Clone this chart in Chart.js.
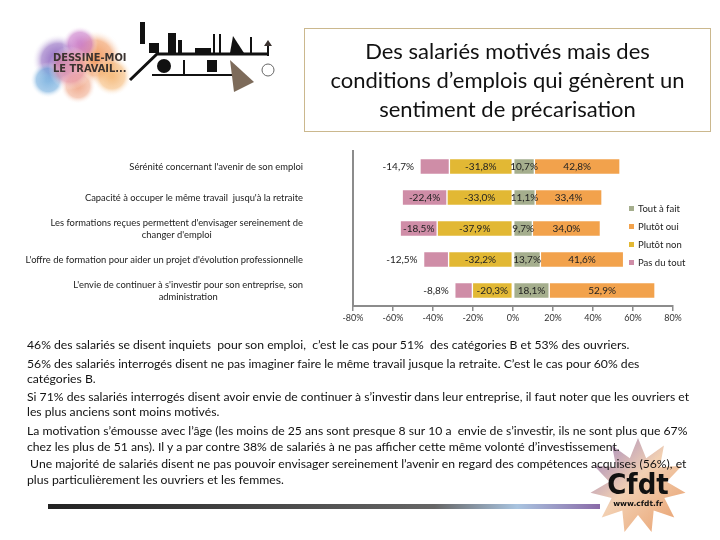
<!DOCTYPE html>
<html>
<head>
<meta charset="utf-8">
<script src="https://cdn.jsdelivr.net/npm/chart.js@4.4.0/dist/chart.umd.min.js"></script>
<style>
  body { margin: 0; width: 720px; height: 540px; background: #fff; position: relative; overflow: hidden; font-family: Lato, "Open Sans", sans-serif; }
  #deco { position: absolute; left: 0; top: 0; }
  #title { position: absolute; left: 304px; top: 28px; width: 407px; height: 104px; border: 1px solid #cbb88e;
           text-align: center; font-size: 22px; line-height: 29px; color: #111; padding-top: 7px; box-sizing: border-box; }
  #chartWrap { position: absolute; left: 0; top: 140px; width: 720px; height: 190px; }
  #notes { position: absolute; left: 27px; top: 0; font-size: 12.2px; color: #111; }
  #notes div { position: absolute; left: 0; white-space: pre; line-height: 14px; }
</style>
</head>
<body>
<canvas id="deco" width="720" height="540"></canvas>
<div id="title">Des salariés motivés mais des<br>conditions d’emplois qui génèrent un<br>sentiment de précarisation</div>
<div id="chartWrap"><canvas id="chart" width="720" height="190"></canvas></div>
<div id="notes"></div>
<script>
const categories = [
  ["Sérénité concernant l'avenir de son emploi"],
  ["Capacité à occuper le même travail  jusqu'à la retraite"],
  ["Les formations reçues permettent d'envisager sereinement de", "changer d'emploi"],
  ["L'offre de formation pour aider un projet d'évolution professionnelle"],
  ["L'envie de continuer à s'investir pour son entreprise, son", "administration"]
];
const toutAFait = [10.7, 11.1, 9.7, 13.7, 18.1];
const plutotOui = [42.8, 33.4, 34.0, 41.6, 52.9];
const plutotNon = [-31.8, -33.0, -37.9, -32.2, -20.3];
const pasDuTout = [-14.7, -22.4, -18.5, -12.5, -8.8];
const xTicks = [-80, -60, -40, -20, 0, 20, 40, 60, 80];

const notes = [
  [345, "46% des salariés se disent inquiets  pour son emploi,  c’est le cas pour 51%  des catégories B et 53% des ouvriers."],
  [364, "56% des salariés interrogés disent ne pas imaginer faire le même travail jusque la retraite. C’est le cas pour 60% des"],
  [379, "catégories B."],
  [397, "Si 71% des salariés interrogés disent avoir envie de continuer à s’investir dans leur entreprise, il faut noter que les ouvriers et"],
  [412, "les plus anciens sont moins motivés."],
  [431, "La motivation s’émousse avec l’âge (les moins de 25 ans sont presque 8 sur 10 a  envie de s’investir, ils ne sont plus que 67%"],
  [447, "chez les plus de 51 ans). Il y a par contre 38% de salariés à ne pas afficher cette même volonté d’investissement."],
  [464, " Une majorité de salariés disent ne pas pouvoir envisager sereinement l’avenir en regard des compétences acquises (56%), et"],
  [480, "plus particulièrement les ouvriers et les femmes."]
];
const notesBox = document.getElementById("notes");
notes.forEach(([y, t]) => {
  const d = document.createElement("div");
  d.style.top = (y - 7) + "px";
  d.textContent = t;
  notesBox.appendChild(d);
});

// decorations: logo blob, skyline, cfdt star, bottom rule
function drawDeco() {
  const c = document.getElementById("deco").getContext("2d");
  const blobs = [[58, 60, 26, "rgba(140,100,190,0.95)"], [95, 58, 28, "rgba(240,150,90,0.9)"],
                 [112, 76, 20, "rgba(245,185,120,0.9)"], [48, 80, 18, "rgba(110,170,220,0.8)"],
                 [80, 44, 18, "rgba(200,120,200,0.85)"], [78, 86, 18, "rgba(240,170,140,0.9)"],
                 [70, 68, 22, "rgba(230,150,170,0.8)"]];
  blobs.forEach(([x, y, r, col]) => {
    const g = c.createRadialGradient(x, y, 2, x, y, r);
    g.addColorStop(0, col); g.addColorStop(0.6, col.replace(/[\d.]+\)$/, "0.6)")); g.addColorStop(1, "rgba(255,255,255,0)");
    c.fillStyle = g; c.beginPath(); c.arc(x, y, r, 0, Math.PI * 2); c.fill();
  });
  c.fillStyle = "#3b3330";
  c.font = "bold 11px 'DejaVu Sans Condensed', sans-serif";
  c.fillText("DESSINE-MOI", 53, 61);
  c.fillText("LE TRAVAIL...", 53, 72);
  c.strokeStyle = "#111"; c.lineWidth = 3;
  c.beginPath(); c.moveTo(130, 80); c.lineTo(157, 54); c.lineTo(268, 54); c.stroke();
  c.lineWidth = 2;
  c.beginPath(); c.moveTo(268, 56); c.lineTo(268, 44); c.stroke();
  c.beginPath(); c.moveTo(264, 46); c.lineTo(268, 40); c.lineTo(272, 46); c.closePath(); c.fill();
  c.beginPath(); c.moveTo(152, 75); c.lineTo(232, 75); c.stroke();
  c.fillStyle = "#111";
  c.beginPath(); c.arc(164, 66, 7, 0, Math.PI * 2); c.fill();
  [[149, 43, 10, 10], [168, 33, 8, 20], [178, 40, 4, 13], [195, 48, 16, 6], [213, 34, 2, 20],
   [219, 34, 2, 20], [250, 37, 2, 16], [140, 22, 5, 22], [207, 60, 10, 12], [183, 60, 2, 15]].forEach(r => c.fillRect(...r));
  c.beginPath(); c.moveTo(233, 36); c.lineTo(244, 53); c.lineTo(230, 53); c.closePath(); c.fill();
  c.fillStyle = "#7d6b5a";
  c.beginPath(); c.moveTo(230, 60); c.lineTo(254, 82); c.lineTo(234, 92); c.closePath(); c.fill();
  c.strokeStyle = "#666"; c.lineWidth = 1;
  c.beginPath(); c.arc(268, 70, 6, 0, Math.PI * 2); c.stroke();

  // bottom rule
  const lg = c.createLinearGradient(48, 0, 600, 0);
  lg.addColorStop(0, "#222"); lg.addColorStop(0.7, "#666"); lg.addColorStop(0.85, "#a9c4e0"); lg.addColorStop(1, "#8a6aa8");
  c.fillStyle = lg; c.fillRect(48, 504, 552, 5);

  // star logo
  const cx = 638, cy = 486, n = 11;
  const sg = c.createLinearGradient(595, 440, 685, 530);
  sg.addColorStop(0, "rgba(140,110,180,0.85)"); sg.addColorStop(0.45, "rgba(240,200,165,0.85)");
  sg.addColorStop(1, "rgba(228,140,80,0.85)");
  c.fillStyle = sg; c.beginPath();
  for (let i = 0; i < n * 2; i++) {
    const r = i % 2 ? 29 : 48;
    const a = -Math.PI / 2 + i * Math.PI / n;
    c.lineTo(cx + r * Math.cos(a), cy + r * Math.sin(a));
  }
  c.closePath(); c.fill();
  c.fillStyle = "#111";
  c.font = "bold 29px 'DejaVu Sans Condensed', sans-serif";
  c.textAlign = "center";
  c.fillText("Cfdt", cx, cy + 8);
  c.font = "bold 7.5px 'DejaVu Sans', sans-serif";
  c.fillText("www.cfdt.fr", cx, cy + 20);
}
drawDeco();

const fmt = v => v.toFixed(1).replace(".", ",") + "%";

const extras = {
  id: "extras",
  afterDatasetsDraw(chart) {
    const ctx = chart.ctx;
    ctx.save();
    ctx.font = "10px Lato";
    ctx.fillStyle = "#222";
    ctx.textBaseline = "middle";
    chart.data.datasets.forEach((ds, i) => {
      chart.getDatasetMeta(i).data.forEach((bar, j) => {
        const txt = fmt(ds.data[j]);
        const w = Math.abs(bar.x - bar.base);
        const tw = ctx.measureText(txt).width;
        let x = (bar.x + bar.base) / 2;
        ctx.textAlign = "center";
        if (ds.outsideIfNarrow && tw + 4 > w) {
          x = Math.min(bar.x, bar.base) - 6;
          ctx.textAlign = "right";
        }
        ctx.fillText(txt, x, bar.y + 0.5);
      });
    });
    ctx.restore();
  },
  afterDraw(chart) {
    const ctx = chart.ctx;
    const yScale = chart.scales.y;
    const right = chart.chartArea.left - 50;
    ctx.save();
    ctx.font = "9.4px Lato";
    ctx.fillStyle = "#222";
    ctx.textAlign = "center";
    ctx.textBaseline = "middle";
    chart.data.labels.forEach((lines, i) => {
      const yc = yScale.getPixelForTick(i);
      const maxW = Math.max(...lines.map(l => ctx.measureText(l).width));
      const y0 = yc - (lines.length - 1) * 6;
      lines.forEach((l, k) => ctx.fillText(l, right - maxW / 2, y0 + k * 12));
    });
    // legend
    ctx.font = "9.5px Lato";
    ctx.textAlign = "left";
    const lx = chart.chartArea.right - 44, ly = 69;
    chart.data.datasets.forEach((ds, i) => {
      ctx.fillStyle = ds.backgroundColor;
      ctx.fillRect(lx, ly + i * 18 - 3, 5, 5);
      ctx.fillStyle = "#222";
      ctx.fillText(ds.label, lx + 9, ly + i * 18);
    });
    ctx.restore();
  }
};

new Chart(document.getElementById("chart"), {
  type: "bar",
  data: {
    labels: categories,
    datasets: [
      { label: "Tout à fait", data: toutAFait, backgroundColor: "#a5ae8d" },
      { label: "Plutôt oui", data: plutotOui, backgroundColor: "#f2a24c" },
      { label: "Plutôt non", data: plutotNon, backgroundColor: "#e2b834" },
      { label: "Pas du tout", data: pasDuTout, backgroundColor: "#cf8da7", outsideIfNarrow: true }
    ]
  },
  options: {
    indexAxis: "y",
    responsive: false,
    animation: false,
    layout: { padding: { top: 11, right: 47, bottom: 0, left: 0 } },
    datasets: { bar: { barThickness: 16, borderColor: "#fff", borderWidth: 1, borderSkipped: false } },
    plugins: { legend: { display: false }, tooltip: { enabled: false } },
    scales: {
      x: {
        stacked: true, min: -80, max: 80,
        afterBuildTicks: s => { s.ticks = xTicks.map(v => ({ value: v })); },
        afterFit: s => { s.height = 24; },
        grid: { drawOnChartArea: false, color: "#8c8c8c", tickLength: 5, lineWidth: 1.5 },
        border: { color: "#8c8c8c", width: 2 },
        ticks: { color: "#333", font: { family: "Lato", size: 9 }, padding: 2, callback: v => v + "%" }
      },
      y: {
        stacked: true,
        afterFit: s => { s.width = 353; },
        grid: { drawOnChartArea: false, drawTicks: false },
        border: { color: "#8c8c8c", width: 2 },
        ticks: { display: false }
      }
    }
  },
  plugins: [extras]
});
</script>
</body>
</html>
